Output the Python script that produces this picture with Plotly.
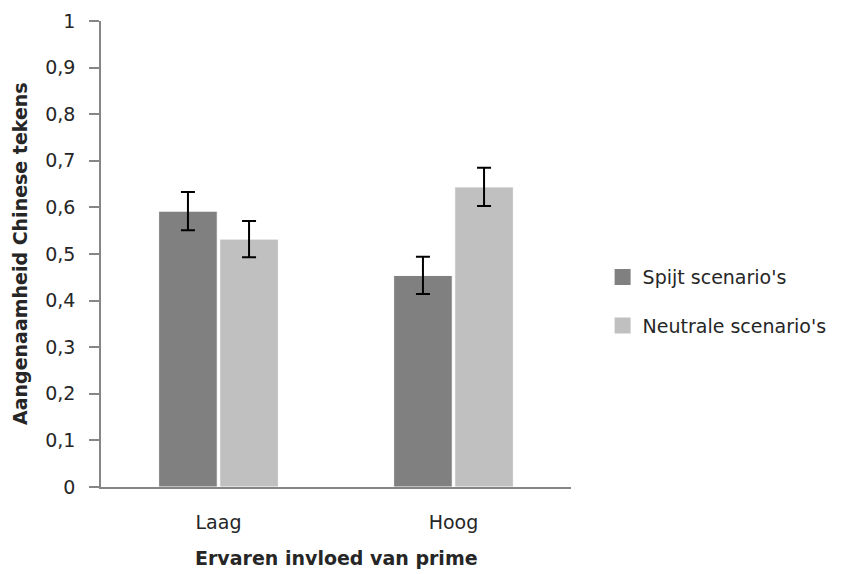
import plotly.graph_objects as go

categories = ["Laag", "Hoog"]
spijt = [0.592, 0.454]
spijt_err = [0.041, 0.040]
neutrale = [0.532, 0.644]
neutrale_err = [0.039, 0.041]
series_names = ["Spijt scenario's", "Neutrale scenario's"]
colors = ["#808080", "#c0c0c0"]

FONT = "DejaVu Sans"
TXT = "#262626"
FS = 19

fig = go.Figure()
for vals, errs, col in [(spijt, spijt_err, colors[0]), (neutrale, neutrale_err, colors[1])]:
    fig.add_trace(go.Bar(
        x=categories, y=vals, showlegend=False,
        marker=dict(color=col, line=dict(color="white", width=1)),
        error_y=dict(type="data", array=errs, color="black", thickness=2, width=7),
    ))
# legend entries with larger square swatches
for i, (name, col) in enumerate(zip(series_names, colors)):
    fig.add_trace(go.Scatter(
        x=[None], y=[None], mode="markers", name=name, legendgroup=f"g{i}",
        marker=dict(symbol="square", size=17, color=col),
    ))

fig.update_layout(
    width=835, height=566,
    margin=dict(l=93, r=271, t=13, b=87),
    paper_bgcolor="white", plot_bgcolor="white",
    separators=", ",
    barmode="group", bargap=0.48, bargroupgap=0.04,
    font=dict(family=FONT, size=FS, color=TXT),
    showlegend=True,
    legend=dict(x=1.065, y=0.398, xanchor="left", yanchor="middle",
                tracegroupgap=21, font=dict(size=FS, color=TXT)),
    xaxis=dict(showline=True, linecolor="#868686", linewidth=1.5, ticks="",
               tickfont=dict(size=FS, color=TXT), showgrid=False,
               automargin=False, ticklabelstandoff=17),
    yaxis=dict(range=[0, 1], dtick=0.1, showline=True, linecolor="#868686", linewidth=1.5,
               ticks="outside", ticklen=10, tickcolor="#868686", tickwidth=1.5,
               showgrid=False, zeroline=False, ticklabelstandoff=10, automargin=False,
               tickfont=dict(size=FS, color=TXT)),
    annotations=[
        dict(text="<b>Aangenaamheid Chinese tekens</b>", textangle=-90,
             xref="paper", yref="paper", x=0, y=0.5, xanchor="center", yanchor="middle",
             xshift=-81, showarrow=False, font=dict(size=FS, color=TXT)),
        dict(text="<b>Ervaren invloed van prime</b>",
             xref="paper", yref="paper", x=0.5, y=0, xanchor="center", yanchor="middle",
             yshift=-71, showarrow=False, font=dict(size=FS, color=TXT)),
    ],
)

fig.write_html("out.html")
